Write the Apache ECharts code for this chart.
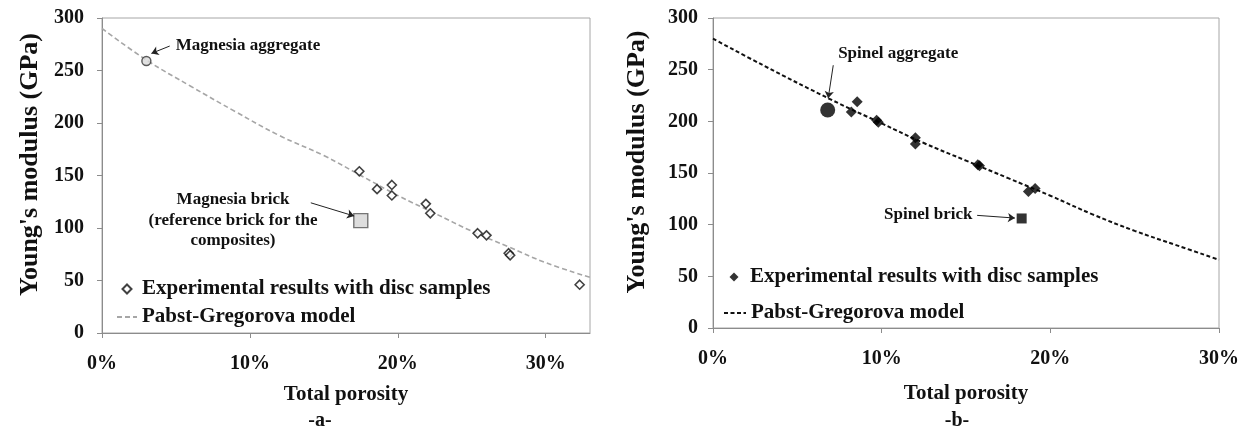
<!DOCTYPE html>
<html>
<head>
<meta charset="utf-8">
<script src="https://cdn.jsdelivr.net/npm/echarts@6/dist/echarts.min.js"></script>
<style>
html, body { margin: 0; padding: 0; background: #fff; }
#wrap { position: relative; width: 1246px; height: 432px; }
#chart_a { position: absolute; left: 0; top: 0; width: 623px; height: 432px; }
#chart_b { position: absolute; left: 623px; top: 0; width: 623px; height: 432px; }
</style>
</head>
<body>
<div id="wrap"><div id="chart_a"></div><div id="chart_b"></div></div>
<script>
// ---- data ----
// (a) magnesia
const porosityA = [0.174, 0.186, 0.196, 0.196, 0.219, 0.222, 0.254, 0.260, 0.275, 0.276, 0.323];
const modulusA  = [154, 137, 141, 131, 123, 114, 95, 93, 76, 74, 46];
const aggregateA = [0.030, 259];
const brickA = [0.175, 107];
const modelPorosityA = [0, 0.03, 0.06, 0.09, 0.12, 0.15, 0.175, 0.20, 0.225, 0.25, 0.275, 0.30, 0.33];
const modelModulusA  = [290, 260, 235, 211, 188, 169, 150, 131, 114, 97, 82, 67, 53];

// (b) spinel
const porosityB = [0.082, 0.0855, 0.097, 0.098, 0.120, 0.120, 0.157, 0.158, 0.187, 0.191];
const modulusB  = [209, 219, 201, 199, 184, 178, 158, 157, 132, 135];
const aggregateB = [0.068, 211];
const brickB = [0.183, 106];
const modelPorosityB = [0, 0.03, 0.07, 0.10, 0.125, 0.15, 0.175, 0.20, 0.225, 0.25, 0.275, 0.30];
const modelModulusB  = [280, 254, 221, 198, 179, 162, 145, 128, 110, 94, 80, 66];

const xTicks = [0, 0.1, 0.2, 0.3];
const SERIF = '"Liberation Serif", "Times New Roman", serif';
const EXP_NAME = 'Experimental results with disc samples';
const MODEL_NAME = 'Pabst-Gregorova model';

function zip(xs, ys) {
    return xs.map((x, i) => [x, ys[i]]);
}

function arrowLine(from, to) {
    return {
        silent: true,
        animation: false,
        symbol: ['none', 'arrow'],
        symbolSize: 7,
        label: { show: false },
        lineStyle: { color: '#222', width: 1, type: 'solid' },
        emphasis: { disabled: true },
        data: [[{ coord: from }, { coord: to }]]
    };
}

function buildChart(el, cfg) {
    const chart = echarts.init(el, null, { renderer: 'canvas' });
    const legendText = { fontFamily: SERIF, fontWeight: 'bold', fontSize: 21, color: '#111', lineHeight: 22 };
    chart.setOption({
        animation: false,
        backgroundColor: '#fff',
        grid: Object.assign({
            show: true, borderColor: '#a6a6a6', borderWidth: 1, backgroundColor: 'transparent',
            containLabel: false, outerBoundsMode: 'none'
        }, cfg.grid),
        legend: [
            {
                left: cfg.legendLeft + (cfg.legendIconW - 9) / 2,
                top: cfg.legendTops[0],
                itemWidth: 9, itemHeight: 9, padding: 0, selectedMode: false,
                textStyle: Object.assign({ padding: [0, 0, 0, (cfg.legendIconW - 9) / 2] }, legendText),
                data: [{ name: EXP_NAME, icon: 'diamond' }]
            },
            {
                left: cfg.legendLeft,
                top: cfg.legendTops[1],
                itemWidth: cfg.legendIconW, itemHeight: 9, padding: 0, selectedMode: false,
                itemStyle: { color: 'rgba(0,0,0,0)', borderWidth: 0, opacity: 0 },
                textStyle: legendText,
                data: [MODEL_NAME]
            }
        ],
        xAxis: {
            type: 'value',
            min: 0,
            max: cfg.xMax,
            interval: 0.1,
            name: 'Total porosity',
            nameLocation: 'middle',
            nameGap: cfg.xNameGap,
            nameTextStyle: { fontFamily: SERIF, fontWeight: 'bold', fontSize: 21, color: '#111' },
            axisLine: { show: true, lineStyle: { color: '#8c8c8c', width: 1 } },
            axisTick: { show: true, length: 5, customValues: xTicks, lineStyle: { color: '#8c8c8c' } },
            axisLabel: {
                margin: 21,
                customValues: xTicks,
                fontFamily: SERIF, fontWeight: 'bold', fontSize: 20, color: '#111',
                formatter: v => Math.round(v * 100) + '%'
            },
            splitLine: { show: false }
        },
        yAxis: {
            type: 'value',
            min: 0,
            max: 300,
            interval: 50,
            name: "Young's modulus (GPa)",
            nameLocation: 'middle',
            nameGap: cfg.yNameGap,
            nameTextStyle: { fontFamily: SERIF, fontWeight: 'bold', fontSize: 26, color: '#111', padding: [0, 0, 0, 22] },
            axisLine: { show: true, lineStyle: { color: '#8c8c8c', width: 1 } },
            axisTick: { show: true, length: 5, lineStyle: { color: '#8c8c8c' } },
            axisLabel: { margin: cfg.yLabelMargin, fontFamily: SERIF, fontWeight: 'bold', fontSize: 20, color: '#111' },
            splitLine: { show: false }
        },
        series: [
            {
                name: MODEL_NAME,
                type: 'line',
                smooth: 0.4,
                symbol: 'none',
                z: 2,
                lineStyle: cfg.lineStyle,
                itemStyle: { color: cfg.lineStyle.color },
                data: zip(cfg.modelX, cfg.modelY)
            },
            {
                name: EXP_NAME,
                type: 'scatter',
                symbol: 'diamond',
                symbolSize: cfg.expSize,
                z: 4,
                itemStyle: cfg.expStyle,
                data: zip(cfg.expX, cfg.expY)
            },
            {
                name: cfg.aggName,
                type: 'scatter',
                symbol: 'circle',
                symbolSize: cfg.aggSize,
                z: 4,
                itemStyle: cfg.aggStyle,
                data: [cfg.agg],
                markLine: arrowLine(cfg.aggArrow[0], cfg.aggArrow[1])
            },
            {
                name: cfg.brickName,
                type: 'scatter',
                symbol: 'rect',
                symbolSize: cfg.brickSize,
                z: 4,
                itemStyle: cfg.brickStyle,
                data: [cfg.brick],
                markLine: arrowLine(cfg.brickArrow[0], cfg.brickArrow[1])
            }
        ]
    });

    // annotation texts, anchored in data space
    const texts = cfg.notes.map(n => {
        const p = chart.convertToPixel({ gridIndex: 0 }, n.at);
        return {
            type: 'text',
            x: p[0], y: p[1],
            silent: true,
            style: {
                text: n.text, align: n.align || 'center', verticalAlign: 'middle',
                fontFamily: SERIF, fontWeight: 'bold', fontSize: 17, fill: '#111'
            }
        };
    });
    texts.push({
        type: 'text', x: cfg.panel.x, y: 421, silent: true,
        style: { text: cfg.panel.text, align: 'center', verticalAlign: 'middle', fontFamily: SERIF, fontWeight: 'bold', fontSize: 20, fill: '#111' }
    });
    chart.setOption({ graphic: texts });
    return chart;
}

const chartA = buildChart(document.getElementById('chart_a'), {
    grid: { left: 102, right: 33, top: 18, bottom: 99 },
    xMax: 0.33,
    xNameGap: 51,
    yNameGap: 44,
    yLabelMargin: 18,
    legendLeft: 116,
    legendIconW: 20,
    legendTops: [278, 306],
    lineStyle: { color: '#a6a6a6', width: 1.6, type: [5, 3] },
    modelX: modelPorosityA, modelY: modelModulusA,
    expX: porosityA, expY: modulusA,
    expSize: 9,
    expStyle: { color: '#fff', borderColor: '#111', borderWidth: 1.6 },
    aggName: 'Magnesia aggregate', agg: aggregateA, aggSize: 9,
    aggStyle: { color: '#d9d9d9', borderColor: '#333', borderWidth: 1.4 },
    aggArrow: [[0.0458, 273.3], [0.0334, 266.3]],
    brickName: 'Magnesia brick', brick: brickA, brickSize: 14,
    brickStyle: { color: '#d4d4d4', borderColor: '#555', borderWidth: 1.4 },
    brickArrow: [[0.1412, 124], [0.1705, 111.4]],
    notes: [
        { text: 'Magnesia aggregate', at: [0.0498, 273.5], align: 'left' },
        { text: 'Magnesia brick', at: [0.0886, 126.6] },
        { text: '(reference brick for the', at: [0.0886, 106.6] },
        { text: 'composites)', at: [0.0886, 87.6] }
    ],
    panel: { text: '-a-', x: 320 }
});

const chartB = buildChart(document.getElementById('chart_b'), {
    grid: { left: 90, right: 27, top: 18, bottom: 104 },
    xMax: 0.3,
    xNameGap: 55,
    yNameGap: 63,
    yLabelMargin: 15,
    legendLeft: 100,
    legendIconW: 22,
    legendTops: [266, 302],
    lineStyle: { color: '#111', width: 2, type: [4, 2.5] },
    modelX: modelPorosityB, modelY: modelModulusB,
    expX: porosityB, expY: modulusB,
    expSize: 11,
    expStyle: { color: '#000' },
    aggName: 'Spinel aggregate', agg: aggregateB, aggSize: 15,
    aggStyle: { color: '#000' },
    aggArrow: [[0.0713, 254.3], [0.0683, 222.3]],
    brickName: 'Spinel brick', brick: brickB, brickSize: 10,
    brickStyle: { color: '#000' },
    brickArrow: [[0.1566, 109], [0.179, 106.4]],
    notes: [
        { text: 'Spinel aggregate', at: [0.0742, 265.8], align: 'left' },
        { text: 'Spinel brick', at: [0.1538, 109.4], align: 'right' }
    ],
    panel: { text: '-b-', x: 334 }
});

window.addEventListener('resize', function() {
    chartA.resize();
    chartB.resize();
});
</script>
</body>
</html>
